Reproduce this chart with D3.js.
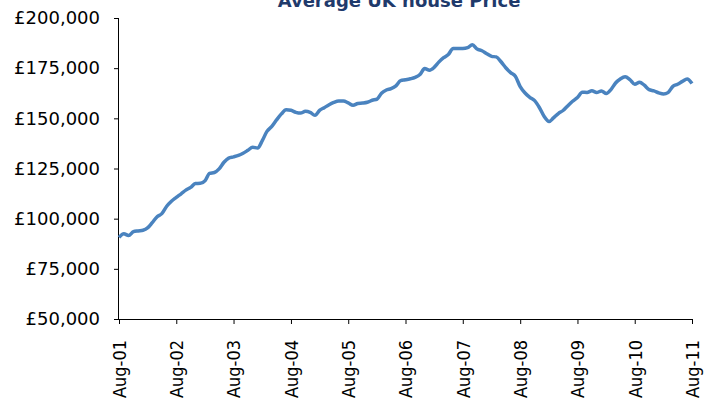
<!DOCTYPE html>
<html>
<head>
<meta charset="utf-8">
<script src="https://cdn.jsdelivr.net/npm/d3@7"></script>
<style>
  body { margin: 0; background: #fff; }
  svg { display: block; }
</style>
</head>
<body>
<div id="chart"></div>
<script>
// monthly average price, Aug 2001 .. Aug 2011
const prices = [
  90650, 92500, 91600, 93500, 93900, 94200, 95500, 98000, 101000, 102500, 106200, 108700,
  110600, 112400, 114200, 115600, 117500, 117600, 119000, 122600, 123000, 124800, 128100, 130200,
  130800, 131500, 132600, 134100, 135600, 135200, 139000, 143500, 146000, 149200, 152200, 154300,
  154000, 153000, 152600, 153500, 153000, 151500, 154100, 155300, 156800, 157900, 158600, 158600,
  157700, 156500, 157400, 157600, 158000, 159000, 159600, 162500, 164100, 164800, 166200, 168800,
  169200, 169700, 170400, 171800, 174800, 174000, 175500, 178000, 180200, 181800, 184800, 184800,
  184800, 185200, 186700, 184500, 183700, 182200, 180900, 180600, 178200, 175200, 172800, 171000,
  165800, 162600, 160500, 158800, 155400, 150900, 148400, 150200, 152400, 153900, 156300, 158500,
  160400, 163000, 162900, 163700, 162900, 163600, 162400, 164200, 167600, 169600, 170700, 169300,
  167000, 168000, 166500, 164300, 163700, 162700, 162100, 162800, 165900, 167000, 168400, 169600,
  167300
];
const yTicks = [50000, 75000, 100000, 125000, 150000, 175000, 200000];
const xTickLabels = ['Aug-01', 'Aug-02', 'Aug-03', 'Aug-04', 'Aug-05', 'Aug-06',
  'Aug-07', 'Aug-08', 'Aug-09', 'Aug-10', 'Aug-11'];
const title = 'Average UK house Price';

const width = 704;
const height = 403;
const margin = { top: 18, right: 12, bottom: 84, left: 119 };

const start = new Date(2001, 7, 1);
const data = prices.map((p, i) => ({ date: d3.timeMonth.offset(start, i), value: p }));

const x = d3.scaleTime()
  .domain([start, d3.timeMonth.offset(start, 120)])
  .range([margin.left, width - margin.right]);

const y = d3.scaleLinear()
  .domain([50000, 200000])
  .range([height - margin.bottom, margin.top]);

const svg = d3.select('#chart')
  .append('svg')
  .attr('width', width)
  .attr('height', height);

svg.append('text')
  .attr('x', 399)
  .attr('y', 7)
  .attr('text-anchor', 'middle')
  .style('font', 'bold 18px "DejaVu Sans", sans-serif')
  .attr('fill', '#1f3a6b')
  .text(title);

const fmt = d3.format(',');

svg.append('g')
  .attr('transform', `translate(${margin.left},0)`)
  .call(d3.axisLeft(y)
    .tickValues(yTicks)
    .tickSize(5)
    .tickPadding(14)
    .tickFormat(d => '£' + fmt(d)))
  .call(g => g.select('.domain').attr('d', `M-0.5,${y(50000)}V${y(200000)}`))
  .call(g => g.selectAll('text')
    .style('font', '18px "DejaVu Sans", sans-serif')
    .attr('fill', '#000'));

const tickDates = xTickLabels.map((d, i) => d3.timeYear.offset(start, i));

svg.append('g')
  .attr('transform', `translate(0,${height - margin.bottom})`)
  .call(d3.axisBottom(x)
    .tickValues(tickDates)
    .tickSize(5)
    .tickFormat((d, i) => xTickLabels[i]))
  .call(g => g.select('.domain').attr('d', `M${x(start)},0.5H${x(tickDates[10])}`))
  .call(g => g.selectAll('text')
    .style('font', '18px "DejaVu Sans Condensed", "DejaVu Sans", sans-serif')
    .style('font-stretch', 'condensed')
    .attr('fill', '#000')
    .attr('text-anchor', 'end')
    .attr('transform', 'rotate(-90)')
    .attr('x', -21)
    .attr('y', 0)
    .attr('dy', '0.35em'));

const line = d3.line()
  .x(d => x(d.date))
  .y(d => y(d.value))
  .curve(d3.curveMonotoneX);

svg.append('path')
  .datum(data)
  .attr('fill', 'none')
  .attr('stroke', '#4a83bf')
  .attr('stroke-width', 3.5)
  .attr('stroke-linejoin', 'round')
  .attr('d', line);
</script>
</body>
</html>
